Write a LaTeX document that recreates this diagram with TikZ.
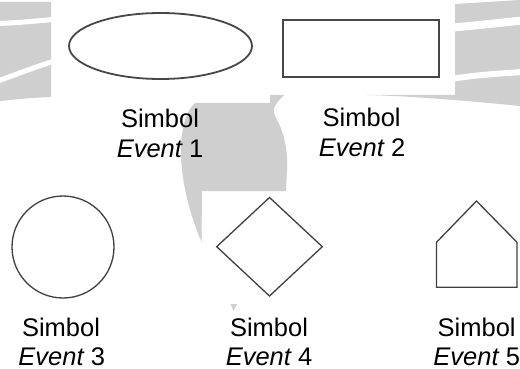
\documentclass[tikz,border=0pt]{standalone}
\usepackage{fontspec}
\setmainfont{Liberation Sans}
\usetikzlibrary{shapes.geometric}
\begin{document}
\begin{tikzpicture}[x=1pt,y=-1pt,
  wm/.style={fill=black!19},
  gap/.style={draw=white, line cap=butt},
  outlineA/.style={draw=black!72, line width=1.8pt},
  outlineB/.style={draw=black!75, line width=1.3pt},
  caption/.style={anchor=base, inner sep=0pt, font=\fontsize{25.5}{29.5}\selectfont}]
\useasboundingbox[fill=white] (0,0) rectangle (520,369);

% faint logo in the background
\begin{scope}
  \clip (0,0) rectangle (51,110);
  \fill[wm] (0,2) -- (51,2) -- (51,97) .. controls (30,98) .. (0,101) -- cycle;
  \draw[gap, line width=5pt] (-2,23.5) .. controls (20,22.5) .. (53,19.5);
  \draw[gap, line width=5pt] (-2,81) .. controls (20,73) and (35,67) .. (53,61.5);
\end{scope}
\begin{scope}
  \clip (367,0) rectangle (520,110);
  \fill[wm] (455,4) -- (520,0) -- (520,106) .. controls (470,101) and (410,96) .. (367,95) -- (455,95) -- cycle;
  \draw[gap, line width=8pt] (453,27.5) .. controls (480,25) .. (522,20.5);
  \draw[gap, line width=6pt] (453,78.5) .. controls (480,75) .. (522,72);
\end{scope}
\fill[wm] (195,103) -- (270,103) -- (270,95) -- (284,95)
  .. controls (275,104) and (271,110) .. (276,118)
  .. controls (284,132) and (288,150) .. (287,170)
  -- (286,191) -- (202,191) -- (201.5,242)
  .. controls (190,215) and (180,180) .. (181,145)
  .. controls (182,125) and (187,110) .. (195,103) -- cycle;
\fill[wm] (230.5,304) -- (237,304) -- (233.5,311) -- cycle;

% event symbols
\node[outlineA, shape=ellipse, minimum width=183pt, minimum height=66pt, inner sep=0pt] (ev1) at (160.5,46) {};
\node[outlineA, shape=rectangle, minimum width=156pt, minimum height=57pt, inner sep=0pt] (ev2) at (361,48.5) {};
\node[outlineB, shape=circle, minimum size=102pt, inner sep=0pt] (ev3) at (63,247) {};
\coordinate (ev4) at (269.5,246.7);
\draw[outlineB] (216.7,246.7) -- (269.5,197.5) -- (322.3,246.7) -- (269.5,296) -- cycle;
\coordinate (ev5) at (476.5,244);
\draw[outlineB, line join=miter] (436.5,287.3) -- (436.5,242.3) -- (476.5,201) -- (517,242.3) -- (517,287.3) -- cycle;

% captions
\node[caption] (s1) at (160,127.7) {Simbol};
\node[caption] (t1) at (160,157.3) {\itshape Event\upshape\ 1};
\node[caption] (s2) at (361.7,126.7) {Simbol};
\node[caption] (t2) at (362,156.7) {\itshape Event\upshape\ 2};
\node[caption] (s3) at (61,336) {Simbol};
\node[caption] (t3) at (61.7,365) {\itshape Event\upshape\ 3};
\node[caption] (s4) at (269,336) {Simbol};
\node[caption] (t4) at (269,365) {\itshape Event\upshape\ 4};
\node[caption] (s5) at (476.7,336) {Simbol};
\node[caption] (t5) at (476.7,365) {\itshape Event\upshape\ 5};
\end{tikzpicture}
\end{document}
